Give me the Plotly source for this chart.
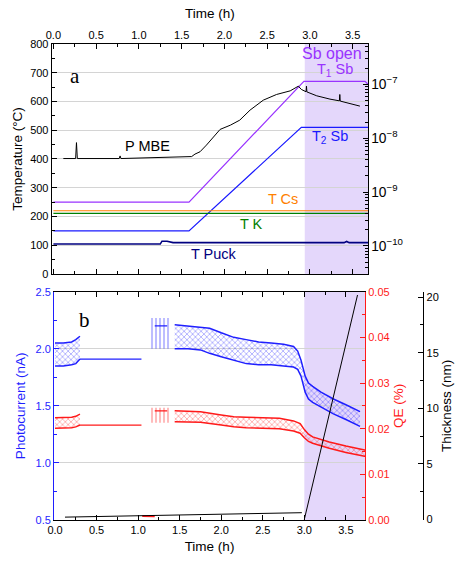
import plotly.graph_objects as go

FONT = "Arial, Liberation Sans, sans-serif"
BLUE = "#1f1fff"
RED = "#ff1a1a"
PURPLE = "#9933ff"
SBBLUE = "#1a1aff"
ORANGE = "#ff8000"
GREEN = "#008000"
NAVY = "#000080"
SHADE = "#e4d7fb"

# ---------------- panel a data ----------------
t_sb1 = [0.0, 1.586, 2.93, 3.645, 3.68]
T1_sb = [250, 250, 670, 670, 660]
t_sb2 = [0.0, 1.586, 2.90, 3.68]
T2_sb = [150, 150, 510, 510]
t_cs = [0.0, 3.68]
T_cs = [220, 220]
t_k = [0.0, 3.68]
T_k = [211, 211]
t_puck = [0.0, 1.25, 1.27, 1.33, 1.40, 3.40, 3.43, 3.46, 3.68]
T_puck = [104, 104, 114, 114, 109, 109, 113, 109, 109]

t_pmbe = [0.116, 0.26, 0.27, 0.28, 0.77, 0.78, 0.79, 1.617, 1.656, 1.715, 1.79, 1.87, 1.95,
          2.07, 2.18, 2.30, 2.455, 2.61, 2.77, 2.865, 2.90, 2.955, 2.96, 2.965, 3.08,
          3.235, 3.345, 3.35, 3.355, 3.585]
P_mbe = [4.2e-9, 4.2e-9, 8.3e-9, 4.2e-9, 4.2e-9, 4.7e-9, 4.2e-9, 4.57e-9, 5.08e-9, 5.61e-9,
         7.46e-9, 1.06e-8, 1.46e-8, 1.75e-8, 2.17e-8, 3.33e-8, 5.10e-8, 6.50e-8, 7.59e-8,
         9.27e-8, 8.07e-8, 7.30e-8, 9.27e-8, 7.25e-8, 6.14e-8, 5.33e-8, 4.95e-8, 6.50e-8,
         4.90e-8, 3.95e-8]

# ---------------- panel b data ----------------
tA = [0.0, 0.1, 0.2, 0.25, 0.3]
pcA_up = [2.05, 2.05, 2.06, 2.08, 2.11]
pcA_lo = [1.85, 1.85, 1.86, 1.87, 1.91]
qeA_up = [0.0224, 0.0224, 0.0225, 0.0227, 0.0232]
qeA_lo = [0.0201, 0.0201, 0.0202, 0.0204, 0.0208]

t_flat = [0.3, 1.04]
pc_flat = [1.91, 1.91]
qe_flat = [0.0208, 0.0208]

tB = [1.14, 1.38]
pcB_up = [2.27, 2.27]
pcB_lo = [2.00, 2.00]
qeB_up = [0.0246, 0.0246]
qeB_lo = [0.0213, 0.0213]
tB_line = [1.20, 1.35]
pcB_line = [2.20, 2.20]
qeB_line = [0.0239, 0.0239]

tC_pc = [1.44, 1.6, 1.75, 1.86, 2.0, 2.15, 2.3, 2.45, 2.6, 2.75, 2.87, 2.92, 2.96, 3.01,
         3.05, 3.1, 3.2, 3.35, 3.5, 3.67]
pcC_up = [2.21, 2.20, 2.19, 2.18, 2.14, 2.10, 2.08, 2.06, 2.05, 2.04, 2.02, 1.98, 1.90, 1.76,
          1.70, 1.67, 1.62, 1.56, 1.51, 1.45]
pcC_lo = [2.00, 2.00, 1.99, 1.96, 1.93, 1.90, 1.87, 1.86, 1.86, 1.85, 1.84, 1.82, 1.76, 1.62,
          1.56, 1.53, 1.49, 1.43, 1.38, 1.32]

tC_qe = [1.44, 1.6, 1.75, 2.0, 2.15, 2.3, 2.5, 2.7, 2.87, 2.95, 3.0, 3.05, 3.1, 3.3, 3.5, 3.74]
qeC_up = [0.0239, 0.0238, 0.0237, 0.0230, 0.0226, 0.0225, 0.0224, 0.0223, 0.0217, 0.0211,
          0.0198, 0.0188, 0.0182, 0.0171, 0.0162, 0.0153]
qeC_lo = [0.0215, 0.0215, 0.0214, 0.0208, 0.0204, 0.0202, 0.0201, 0.0200, 0.0195, 0.0190,
          0.0180, 0.0172, 0.0168, 0.0157, 0.0148, 0.0139]

t_qe_blip = [1.05, 1.20]
qe_blip = [0.0009, 0.0008]

t_thick_base = [0.12, 2.97]
thick_base = [0.2, 0.6]
t_thick = [3.0, 3.64]
thick = [0.0, 20.2]

SB_OPEN_A = [2.94, 3.68]
SB_OPEN_B = [3.0, 3.74]

fig = go.Figure()


def line(x, y, color, xa, ya, width=1.2):
    fig.add_trace(go.Scatter(x=x, y=y, mode="lines", line=dict(color=color, width=width),
                             xaxis=xa, yaxis=ya, showlegend=False, hoverinfo="skip"))


def band(x, up, lo, color, xa, ya, shape="x", edges=True):
    fig.add_trace(go.Scatter(
        x=list(x) + list(x)[::-1], y=list(up) + list(lo)[::-1], mode="lines",
        line=dict(width=0, color=color), fill="toself", fillcolor="rgba(0,0,0,0)",
        fillpattern=dict(shape=shape, fgcolor=color, bgcolor="rgba(0,0,0,0)", size=4,
                         solidity=0.3),
        xaxis=xa, yaxis=ya, showlegend=False, hoverinfo="skip"))
    if edges:
        line(x, up, color, xa, ya, 1.5)
        line(x, lo, color, xa, ya, 1.5)


# panel a
line(t_sb1, T1_sb, PURPLE, "x", "y")
line(t_sb2, T2_sb, SBBLUE, "x", "y")
line(t_cs, T_cs, ORANGE, "x", "y")
line(t_k, T_k, GREEN, "x", "y")
line(t_puck, T_puck, NAVY, "x", "y", 1.6)
line(t_pmbe, P_mbe, "black", "x", "y2", 1.0)

# panel b
band(tA, pcA_up, pcA_lo, BLUE, "x2", "y3")
line(t_flat, pc_flat, BLUE, "x2", "y3")
band(tB, pcB_up, pcB_lo, BLUE, "x2", "y3", shape="|", edges=False)
line(tB_line, pcB_line, BLUE, "x2", "y3")
band(tC_pc, pcC_up, pcC_lo, BLUE, "x2", "y3")

band(tA, qeA_up, qeA_lo, RED, "x2", "y4")
line(t_flat, qe_flat, RED, "x2", "y4")
band(tB, qeB_up, qeB_lo, RED, "x2", "y4", shape="|", edges=False)
line(tB_line, qeB_line, RED, "x2", "y4")
band(tC_qe, qeC_up, qeC_lo, RED, "x2", "y4")
line(t_qe_blip, qe_blip, RED, "x2", "y4", 2)

line(t_thick_base, thick_base, "black", "x2", "y5", 1.0)
line(t_thick, thick, "black", "x2", "y5", 1.0)

fig.add_shape(type="rect", xref="x", yref="y", x0=SB_OPEN_A[0], x1=SB_OPEN_A[1], y0=0, y1=800,
              fillcolor=SHADE, line=dict(width=0), layer="below")
fig.add_shape(type="rect", xref="x2", yref="y3", x0=SB_OPEN_B[0], x1=SB_OPEN_B[1], y0=0.5,
              y1=2.5, fillcolor=SHADE, line=dict(width=0), layer="below")

tickfont = dict(family=FONT, size=11, color="black")
titlefont = dict(family=FONT, size=13.5, color="black")
common = dict(showline=True, linecolor="black", linewidth=1, ticks="inside", ticklen=5,
              tickcolor="black", zeroline=False, tickfont=tickfont, automargin=False)

fig.update_layout(
    width=457, height=562, margin=dict(l=0, r=0, t=0, b=0),
    paper_bgcolor="white", plot_bgcolor="white", showlegend=False,
    font=dict(family=FONT, size=11, color="black"),
    xaxis=dict(domain=[0.1131, 0.8053], range=[-0.02, 3.68], side="top", anchor="y",
               dtick=0.5, tickformat=".1f", mirror="ticks", showgrid=False,
               minor=dict(ticks="inside", ticklen=3, dtick=0.25, tickcolor="black"),
               title=dict(text="Time (h)", font=titlefont, standoff=6), **common),
    yaxis=dict(domain=[0.5125, 0.9217], range=[0, 800], dtick=100, anchor="x",
               showgrid=True, gridcolor="#d4d4d4", gridwidth=1,
               minor=dict(ticks="inside", ticklen=3, dtick=50, tickcolor="black"),
               title=dict(text="Temperature (°C)", font=titlefont, standoff=4), **common),
    yaxis2=dict(overlaying="y", side="right", type="log", range=[-10.52, -6.25], anchor="x",
                dtick=1, exponentformat="power", showexponent="all", showgrid=False,
                minor=dict(ticks="inside", ticklen=3, tickcolor="black"), **common),
    xaxis2=dict(domain=[0.1182, 0.7987], range=[-0.012, 3.73], anchor="y3", dtick=0.5,
                tickformat=".1f", mirror="ticks", showgrid=False,
                minor=dict(ticks="inside", ticklen=3, dtick=0.25, tickcolor="black"),
                title=dict(text="Time (h)", font=titlefont, standoff=6), **common),
)
fig.update_layout(
    yaxis3=dict(domain=[0.0747, 0.481], range=[0.5, 2.5], dtick=0.5, tickformat=".1f",
                anchor="x2", showline=True, linecolor=BLUE, linewidth=1, ticks="inside",
                ticklen=5, tickcolor=BLUE, zeroline=False, automargin=False,
                tickfont=dict(family=FONT, size=11, color=BLUE),
                showgrid=True, gridcolor="#d4d4d4",
                minor=dict(ticks="inside", ticklen=3, dtick=0.25, tickcolor=BLUE),
                title=dict(text="Photocurrent (nA)", standoff=6,
                           font=dict(family=FONT, size=13.5, color=BLUE))),
    yaxis4=dict(overlaying="y3", side="right", anchor="x2", range=[0, 0.05], dtick=0.01,
                tickformat=".2f", showline=True, linecolor=RED, linewidth=1, ticks="inside",
                ticklen=5, tickcolor=RED, zeroline=False, showgrid=False, automargin=False,
                tickfont=dict(family=FONT, size=11, color=RED),
                minor=dict(ticks="inside", ticklen=3, dtick=0.005, tickcolor=RED),
                title=dict(text="QE (%)", standoff=4,
                           font=dict(family=FONT, size=13.5, color=RED))),
    yaxis5=dict(overlaying="y3", side="right", anchor="free", position=0.9263,
                range=[-0.06, 20.5], dtick=5, showline=True, linecolor="black", linewidth=1,
                ticks="inside", ticklen=5, tickcolor="black", zeroline=False, showgrid=False,
                tickfont=tickfont, automargin=False,
                minor=dict(ticks="inside", ticklen=3, dtick=2.5, tickcolor="black"),
                title=dict(text="Thickness (nm)", standoff=3, font=titlefont)),
)

ann = [
    ("a", 0.25, 690, "black", 21, "Times New Roman, Liberation Serif, serif", "x", "y"),
    ("P MBE", 1.10, 446, "black", 14.5, FONT, "x", "y"),
    ("T Cs", 2.69, 260, ORANGE, 14.5, FONT, "x", "y"),
    ("T K", 2.32, 174, GREEN, 14.5, FONT, "x", "y"),
    ("T Puck", 1.88, 70, NAVY, 14.5, FONT, "x", "y"),
    ("Sb open", 3.26, 768, PURPLE, 16, FONT, "x", "y"),
    ("T<sub>1</sub> Sb", 3.29, 708, PURPLE, 14.5, FONT, "x", "y"),
    ("T<sub>2</sub> Sb", 3.23, 476, SBBLUE, 14.5, FONT, "x", "y"),
    ("b", 0.35, 2.25, "black", 21, "Times New Roman, Liberation Serif, serif", "x2", "y3"),
]
for text, x, y, color, size, fam, xr, yr in ann:
    fig.add_annotation(text=text, x=x, y=y, xref=xr, yref=yr, showarrow=False,
                       font=dict(family=fam, size=size, color=color))

fig.write_html("out.html", config={"displayModeBar": False},
               post_script="document.body.style.margin='0px';")
